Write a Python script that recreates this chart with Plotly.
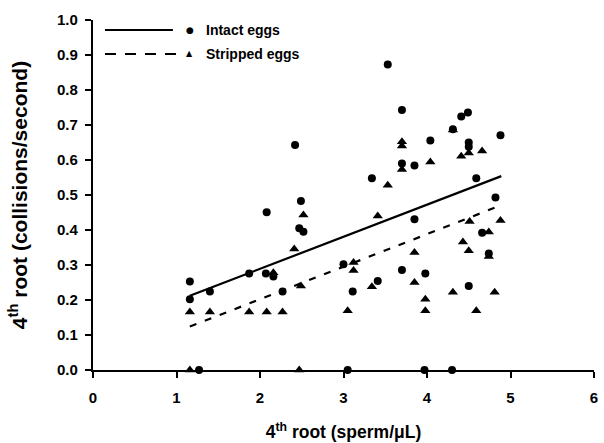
import plotly.graph_objects as go

# ---- data ----
intact_x = [1.16, 1.16, 1.40, 1.87, 2.07, 2.16, 2.27, 2.08, 2.42, 2.49, 2.47, 2.52, 1.27,
            3.00, 3.11, 3.05, 3.34, 3.41, 3.53, 3.70, 3.70, 3.70, 3.85, 3.85, 3.98, 3.97,
            4.04, 4.31, 4.30, 4.41, 4.49, 4.50, 4.50, 4.50, 4.59, 4.66, 4.74, 4.82, 4.88]
intact_y = [0.253, 0.202, 0.224, 0.276, 0.276, 0.267, 0.224, 0.451, 0.643, 0.483, 0.405, 0.395, 0.0,
            0.302, 0.224, 0.0, 0.548, 0.254, 0.873, 0.743, 0.590, 0.286, 0.584, 0.431, 0.276, 0.0,
            0.656, 0.688, 0.0, 0.724, 0.736, 0.650, 0.638, 0.240, 0.548, 0.392, 0.333, 0.493, 0.671]

stripped_x = [1.16, 1.40, 1.87, 2.08, 2.27, 1.16, 2.16, 2.49, 2.41, 2.52, 2.47,
              3.05, 3.12, 3.12, 3.34, 3.41, 3.53, 3.70, 3.70, 3.70, 3.85, 3.85, 3.98, 3.98,
              4.04, 4.31, 4.31, 4.41, 4.43, 4.50, 4.50, 4.51, 4.59, 4.66, 4.74, 4.74, 4.81, 4.88]
stripped_y = [0.166, 0.166, 0.166, 0.166, 0.166, 0.0, 0.278, 0.240, 0.346, 0.443, 0.0,
              0.169, 0.307, 0.284, 0.238, 0.440, 0.528, 0.652, 0.640, 0.573, 0.336, 0.250, 0.202, 0.169,
              0.594, 0.686, 0.222, 0.611, 0.366, 0.620, 0.341, 0.424, 0.169, 0.626, 0.394, 0.324, 0.222, 0.427]

# fitted regression lines (end points)
fit_x = [1.16, 4.89]
intact_fit_y = [0.212, 0.554]
stripped_fit_y = [0.124, 0.471]

x_ticks = [0, 1, 2, 3, 4, 5, 6]
y_ticks = [0.0, 0.1, 0.2, 0.3, 0.4, 0.5, 0.6, 0.7, 0.8, 0.9, 1.0]
legend_labels = ["Intact eggs", "Stripped eggs"]
x_title = "4<sup>th</sup> root (sperm/\u03bcL)"
y_title = "4<sup>th</sup> root (collisions/second)"

FONT = "Liberation Sans, Arial, sans-serif"

fig = go.Figure()
fig.add_trace(go.Scatter(x=fit_x, y=intact_fit_y, mode="lines",
                         line=dict(color="black", width=2.2), showlegend=False))
fig.add_trace(go.Scatter(x=fit_x, y=stripped_fit_y, mode="lines",
                         line=dict(color="black", width=2.2, dash="7px,9px"), showlegend=False))
fig.add_trace(go.Scatter(x=intact_x, y=intact_y, mode="markers", cliponaxis=False,
                         marker=dict(symbol="circle", size=8, color="black"), showlegend=False))
fig.add_trace(go.Scatter(x=stripped_x, y=stripped_y, mode="markers", cliponaxis=False,
                         marker=dict(symbol="triangle-up", size=9, color="black"), showlegend=False))

# manual legend (paper coordinates)
W, H = 604, 443
ml, mr, mt, mb = 93, 9.5, 20, 73
pw, ph = W - ml - mr, H - mt - mb

def px(xp):
    return (xp - ml) / pw

def py(yp):
    return 1 - (yp - mt) / ph

fig.add_shape(type="line", xref="paper", yref="paper", x0=px(105), x1=px(173), y0=py(30), y1=py(30),
              line=dict(color="black", width=2))
fig.add_shape(type="line", xref="paper", yref="paper", x0=px(105), x1=px(178), y0=py(54), y1=py(54),
              line=dict(color="black", width=2, dash="11px,9px"))
fig.add_annotation(xref="paper", yref="paper", x=px(190), y=py(30), text="\u25cf", showarrow=False,
                   font=dict(family="DejaVu Sans", size=9, color="black"), xanchor="center", yanchor="middle")
fig.add_annotation(xref="paper", yref="paper", x=px(190), y=py(53.5), text="\u25b2", showarrow=False,
                   font=dict(family="DejaVu Sans", size=8, color="black"), xanchor="center", yanchor="middle")
for lab, yy in zip(legend_labels, [30, 54]):
    fig.add_annotation(xref="paper", yref="paper", x=px(204), y=py(yy), text=lab, showarrow=False,
                       font=dict(family=FONT, size=14, color="black", weight="bold"),
                       xanchor="left", yanchor="middle")

axis_common = dict(showgrid=False, zeroline=False, showline=True, linecolor="black", linewidth=2.2,
                   ticks="outside", ticklen=6, tickwidth=1.5, tickcolor="black", automargin=False,
                   tickfont=dict(family=FONT, size=15, color="black", weight="bold"))

fig.update_xaxes(range=[0, 6], tickvals=x_ticks, ticktext=[str(v) for v in x_ticks],
                 ticklabelstandoff=7,
                 title=dict(text=x_title, font=dict(family=FONT, size=17.5, color="black", weight="bold"),
                            standoff=21),
                 **axis_common)
fig.update_yaxes(range=[0, 1], tickvals=y_ticks, ticktext=[f"{v:.1f}" for v in y_ticks],
                 ticklabelstandoff=4,
                 title=dict(text=y_title, font=dict(family=FONT, size=21, color="black", weight="bold"),
                            standoff=24),
                 **axis_common)

fig.update_layout(width=W, height=H, margin=dict(l=ml, r=mr, t=mt, b=mb),
                  plot_bgcolor="white", paper_bgcolor="white", showlegend=False)

fig.write_html("out.html")
